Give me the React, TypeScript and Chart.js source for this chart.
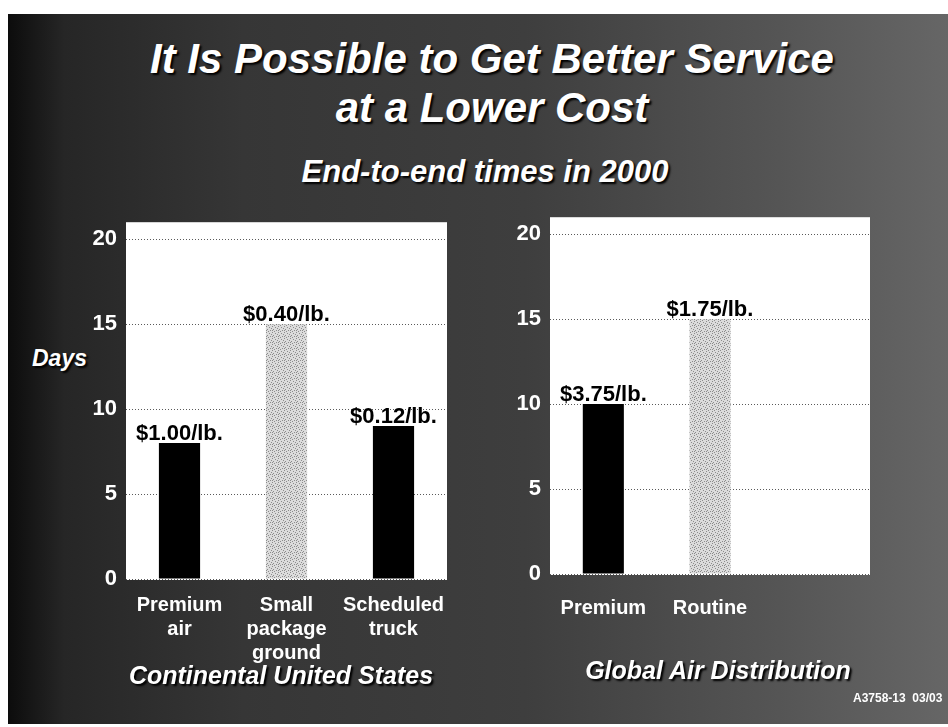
import React, { useEffect, useRef } from "react";
import { Chart, registerables } from "chart.js";

Chart.register(...registerables);

// ---- data ----
const usCategories: string[][] = [["Premium", "air"], ["Small", "package", "ground"], ["Scheduled", "truck"]];
const usDays: (number | null)[] = [8, 15, 9];
const usCost: string[] = ["$1.00/lb.", "$0.40/lb.", "$0.12/lb."];

const globalCategories: string[] = ["Premium", "Routine", ""];
const globalDays: (number | null)[] = [10, 15, null];
const globalCost: string[] = ["$3.75/lb.", "$1.75/lb.", ""];

const yTicks: number[] = [0, 5, 10, 15, 20];
const yMax = 21;

const FONT = '"Liberation Sans", Arial, Helvetica, sans-serif';

function makeStipple(ctx: CanvasRenderingContext2D): CanvasPattern | string {
  const c = document.createElement("canvas");
  c.width = 6;
  c.height = 6;
  const g = c.getContext("2d");
  if (!g) return "#c8c8c8";
  g.fillStyle = "#dcdcdc";
  g.fillRect(0, 0, 6, 6);
  g.fillStyle = "#8c8c8c";
  const dots = [[0, 0], [3, 1], [1, 3], [4, 4], [2, 5], [5, 2], [0, 4]];
  dots.forEach(([x, y]) => g.fillRect(x, y, 1, 1));
  return ctx.createPattern(c, "repeat") || "#c8c8c8";
}

const plotBg = {
  id: "plotBg",
  beforeDraw(chart: any) {
    const { ctx, chartArea } = chart;
    ctx.save();
    ctx.fillStyle = "#ffffff";
    ctx.fillRect(chartArea.left, chartArea.top, chartArea.right - chartArea.left, chartArea.bottom - chartArea.top + 1);
    ctx.restore();
  },
};

const costLabels = {
  id: "costLabels",
  afterDatasetsDraw(chart: any, _args: any, opts: any) {
    const { ctx } = chart;
    const meta = chart.getDatasetMeta(0);
    const labels: string[] = opts.labels || [];
    ctx.save();
    ctx.font = `bold 22px ${FONT}`;
    ctx.fillStyle = "#000";
    ctx.textAlign = "center";
    ctx.textBaseline = "alphabetic";
    meta.data.forEach((bar: any, i: number) => {
      const t = labels[i];
      if (!t) return;
      ctx.fillText(t, bar.x, bar.y - 3);
    });
    ctx.restore();
  },
};

type PanelProps = {
  categories: any[];
  values: (number | null)[];
  costs: string[];
  left: number;
  top: number;
  width: number;
  height: number;
  yWidth: number;
  padTop: number;
  padRight: number;
  xPad: number;
  xHeight: number;
};

function Panel(p: PanelProps) {
  const ref = useRef<HTMLCanvasElement | null>(null);
  useEffect(() => {
    const canvas = ref.current;
    if (!canvas) return;
    const ctx = canvas.getContext("2d");
    if (!ctx) return;
    const stipple = makeStipple(ctx);
    const chart = new Chart(canvas, {
      type: "bar",
      data: {
        labels: p.categories,
        datasets: [
          {
            data: p.values,
            backgroundColor: p.values.map((_, i) => (i === 1 ? stipple : "#000000")) as any,
            borderWidth: 0,
            categoryPercentage: 1,
            barPercentage: 0.385,
          },
        ],
      },
      options: {
        responsive: false,
        animation: false,
        devicePixelRatio: 1,
        layout: { padding: { top: p.padTop, right: p.padRight, left: 0, bottom: 0 } },
        plugins: {
          legend: { display: false },
          tooltip: { enabled: false },
          costLabels: { labels: p.costs },
        } as any,
        scales: {
          x: {
            grid: { display: false },
            border: { display: false },
            ticks: {
              color: "#ffffff",
              padding: p.xPad,
              maxRotation: 0,
              autoSkip: false,
              font: { family: FONT, size: 20, weight: "bold", lineHeight: 1.2 },
            },
            afterFit: (s: any) => {
              s.height = p.xHeight;
            },
          },
          y: {
            min: 0,
            max: yMax,
            afterBuildTicks: (axis: any) => {
              axis.ticks = yTicks.map((v) => ({ value: v }));
            },
            grid: { color: "#5a5a5a", lineWidth: 1, drawTicks: false },
            border: { display: false, dash: [1, 2] },
            ticks: {
              color: "#ffffff",
              padding: 9,
              font: { family: FONT, size: 22, weight: "bold" },
            },
            afterFit: (s: any) => {
              s.width = p.yWidth;
            },
          },
        },
      },
      plugins: [plotBg, costLabels],
    });
    return () => chart.destroy();
  }, []);
  return (
    <canvas
      ref={ref}
      width={p.width}
      height={p.height}
      style={{ position: "absolute", left: p.left, top: p.top, width: p.width, height: p.height, display: "block" }}
    />
  );
}

const shadow = "2px 2px 2px #000";

function Text(props: { children: any; left: number; top: number; width: number; size: number; lh: number; italic?: boolean; align?: any }) {
  return (
    <div
      style={{
        position: "absolute",
        left: props.left,
        top: props.top,
        width: props.width,
        textAlign: props.align || "center",
        fontFamily: FONT,
        fontWeight: "bold",
        fontStyle: props.italic ? "italic" : "normal",
        fontSize: props.size,
        lineHeight: `${props.lh}px`,
        color: "#ffffff",
        textShadow: props.italic ? shadow : "none",
        whiteSpace: "nowrap",
      }}
    >
      {props.children}
    </div>
  );
}

export default function App() {
  return (
    <div style={{ position: "absolute", left: 0, top: 0, width: 948, height: 727, background: "#ffffff", overflow: "hidden" }}>
      <div
        style={{
          position: "absolute",
          left: 8,
          top: 14,
          width: 940,
          height: 710,
          background:
            "linear-gradient(90deg, #0c0c0c 0%, #262626 6%, #363636 25%, #3e3e3e 55%, #555555 82%, #666666 100%)",
        }}
      />
      <Text left={92} top={34} width={800} size={42} lh={49} italic>
        It Is Possible to Get Better Service
        <br />
        at a Lower Cost
      </Text>
      <Text left={185} top={154} width={600} size={31} lh={36} italic>
        End-to-end times in 2000
      </Text>
      <Text left={32} top={344} width={80} size={23} lh={28} italic align="left">
        Days
      </Text>
      <Panel
        categories={usCategories}
        values={usDays}
        costs={usCost}
        left={80}
        top={200}
        width={380}
        height={490}
        yWidth={46}
        padTop={8.5}
        padRight={13}
        xPad={6}
        xHeight={111}
      />
      <Panel
        categories={globalCategories}
        values={globalDays}
        costs={globalCost}
        left={490}
        top={195}
        width={400}
        height={490}
        yWidth={60}
        padTop={11.5}
        padRight={20}
        xPad={14}
        xHeight={111}
      />
      <Text left={81} top={660} width={400} size={25} lh={30} italic>
        Continental United States
      </Text>
      <Text left={518} top={655} width={400} size={25} lh={30} italic>
        Global Air Distribution
      </Text>
      <Text left={853} top={691} width={120} size={12} lh={14} align="left">
        A3758-13&nbsp;&nbsp;03/03
      </Text>
    </div>
  );
}
